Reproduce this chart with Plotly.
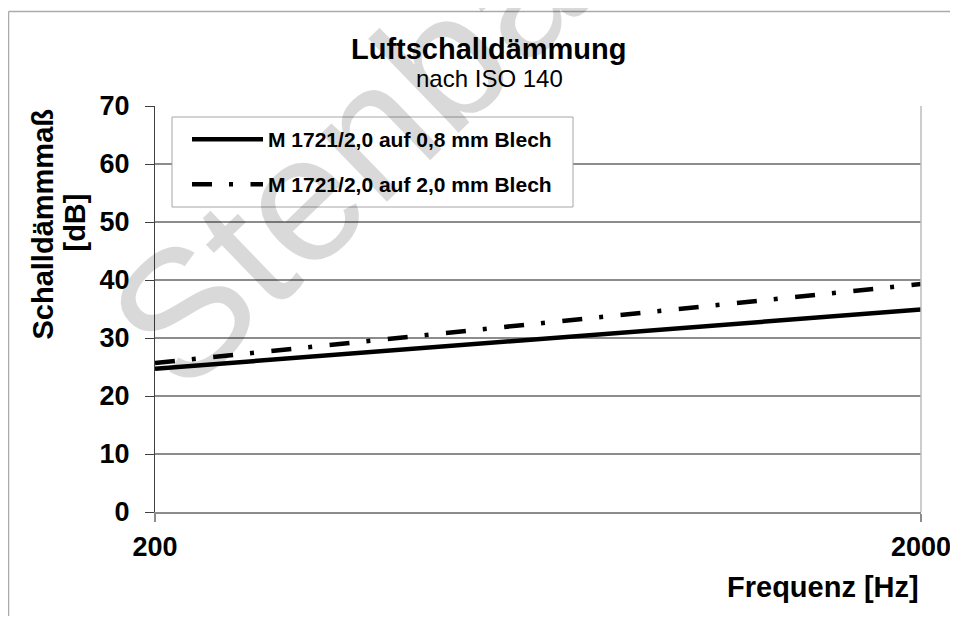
import math
import plotly.graph_objects as go

# ---- data ----
frequencies = [200, 2000]
series_names = ["M 1721/2,0 auf 0,8 mm Blech", "M 1721/2,0 auf 2,0 mm Blech"]
values_08mm = [24.7, 34.9]
values_20mm = [25.7, 39.3]
x_tick_vals = [200, 2000]
x_tick_text = ["200", "2000"]
y_tick_vals = [0, 10, 20, 30, 40, 50, 60, 70]

# the page body adds an 8px margin, so work in page pixels and shift by it
OFF = 8
W, H = 942, 608
ML, MR, MT, MB = 147, 29, 98, 104
PW, PH = W - ML - MR, H - MT - MB

def px(x):
    return (x - OFF - ML) / PW

def py(y):
    return (H - MB - (y - OFF)) / PH

FONT = "Liberation Sans, Arial, sans-serif"
DASHDOT = "20px,17px,4px,17.5px"

fig = go.Figure()
fig.add_trace(go.Scatter(x=frequencies, y=values_08mm, mode="lines", name=series_names[0],
                         line=dict(color="black", width=4.5), hoverinfo="skip"))
fig.add_trace(go.Scatter(x=frequencies, y=values_20mm, mode="lines", name=series_names[1],
                         line=dict(color="black", width=4.5, dash=DASHDOT), hoverinfo="skip"))

shapes = [
    # outer chart border (top and left edges; the others lie outside the picture)
    dict(type="line", xref="paper", yref="paper", x0=px(8.5), x1=px(960), y0=py(11.5), y1=py(11.5),
         line=dict(color="#aaaaaa", width=1.5), layer="below"),
    dict(type="line", xref="paper", yref="paper", x0=px(8.5), x1=px(8.5), y0=py(11.5), y1=py(630),
         line=dict(color="#aaaaaa", width=1.5), layer="below"),
    # right plot border
    dict(type="line", xref="paper", yref="paper", x0=1, x1=1, y0=0, y1=1,
         line=dict(color="#bdbdbd", width=1.5), layer="above"),
    # legend box
    dict(type="rect", xref="paper", yref="paper", x0=px(172), x1=px(573), y0=py(207), y1=py(117),
         fillcolor="white", line=dict(color="#a6a6a6", width=1), layer="above"),
    # legend samples
    dict(type="line", xref="paper", yref="paper", x0=px(192), x1=px(263), y0=py(139.3), y1=py(139.3),
         line=dict(color="black", width=4.5), layer="above"),
    dict(type="line", xref="paper", yref="paper", x0=px(192), x1=px(263), y0=py(184.3), y1=py(184.3),
         line=dict(color="black", width=4.5, dash=DASHDOT), layer="above"),
]

annotations = [
    # watermark
    dict(text="Stenba", xref="paper", yref="paper", x=px(345), y=py(155), xanchor="center", yanchor="middle",
         textangle=-44, showarrow=False, font=dict(family=FONT, size=180, color="rgba(0,0,0,0.15)")),
    # title
    dict(text="Luftschalldämmung", xref="paper", yref="paper", x=px(489), y=py(49), xanchor="center",
         yanchor="middle", showarrow=False, font=dict(family=FONT, size=29, color="black", weight="bold")),
    dict(text="nach ISO 140", xref="paper", yref="paper", x=px(489), y=py(79), xanchor="center",
         yanchor="middle", showarrow=False, font=dict(family=FONT, size=24, color="black")),
    # legend texts
    dict(text=series_names[0], xref="paper", yref="paper", x=px(266), y=py(139.3), xanchor="left",
         yanchor="middle", showarrow=False, font=dict(family=FONT, size=21, color="black", weight="bold")),
    dict(text=series_names[1], xref="paper", yref="paper", x=px(266), y=py(184.3), xanchor="left",
         yanchor="middle", showarrow=False, font=dict(family=FONT, size=21, color="black", weight="bold")),
    # y-axis title (two lines)
    dict(text="Schalldämmmaß", xref="paper", yref="paper", x=px(42), y=py(224.5), xanchor="center",
         yanchor="middle", textangle=-90, showarrow=False,
         font=dict(family=FONT, size=29, color="black", weight="bold")),
    dict(text="[dB]", xref="paper", yref="paper", x=px(74), y=py(222.5), xanchor="center",
         yanchor="middle", textangle=-90, showarrow=False,
         font=dict(family=FONT, size=29, color="black", weight="bold")),
    # x-axis title
    dict(text="Frequenz [Hz]", xref="paper", yref="paper", x=1.0, y=py(587), xanchor="right",
         yanchor="middle", showarrow=False, font=dict(family=FONT, size=29, color="black", weight="bold")),
]

fig.update_layout(
    width=W, height=H,
    margin=dict(l=ML, r=MR, t=MT, b=MB, pad=0, autoexpand=False),
    paper_bgcolor="white", plot_bgcolor="white",
    showlegend=False,
    shapes=shapes, annotations=annotations,
    xaxis=dict(type="log", range=[math.log10(200), math.log10(2000)],
               tickvals=x_tick_vals, ticktext=x_tick_text,
               ticks="outside", ticklen=8, tickcolor="#8c8c8c", tickwidth=1.5,
               showline=True, linecolor="#8c8c8c", linewidth=1.5,
               showgrid=False, zeroline=False, ticklabelstandoff=2,
               ticklabeloverflow="allow", automargin=False,
               tickfont=dict(family=FONT, size=27, color="black", weight="bold")),
    yaxis=dict(range=[0, 70], tickvals=y_tick_vals,
               ticks="outside", ticklen=9, tickcolor="#404040", tickwidth=1,
               showline=True, linecolor="#404040", linewidth=1,
               showgrid=True, gridcolor="#8c8c8c", gridwidth=1.5, zeroline=False,
               ticklabelstandoff=10, automargin=False,
               tickfont=dict(family=FONT, size=27, color="black", weight="bold")),
)

fig.write_html("out.html")
